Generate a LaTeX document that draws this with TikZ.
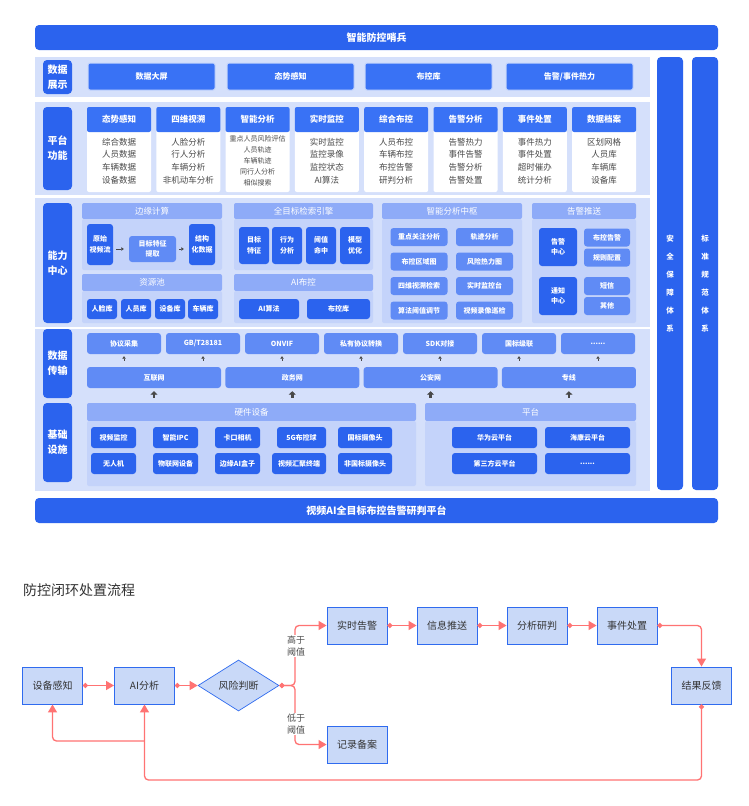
\documentclass[tikz,border=0pt]{standalone}
\usepackage{fontspec}
\setmainfont{Noto Sans CJK SC}
\usetikzlibrary{arrows.meta,shapes.geometric,positioning}
\definecolor{sentry}{HTML}{2B63EE}
\definecolor{tileblue}{HTML}{3972F5}
\definecolor{softblue}{HTML}{608BF5}
\definecolor{grouphead}{HTML}{8EABF8}
\definecolor{groupbody}{HTML}{C4D3FA}
\definecolor{bandbg}{HTML}{D5E0FB}
\definecolor{flowfill}{HTML}{C9D9F8}
\definecolor{flowline}{HTML}{2F6BEF}
\definecolor{loopred}{HTML}{FF7373}
\definecolor{inkgray}{HTML}{333333}
\definecolor{bodygray}{HTML}{4A4A4A}
\definecolor{liftgray}{HTML}{484848}
\newcommand{\moredots}{......}
\tikzset{
    wh/.style 2 args={minimum width=#1pt,minimum height=#2pt},
    banner/.style={fill=sentry,rounded corners=4pt,inner sep=0pt,text=white,
        font=\bfseries\fontsize{10}{12}\selectfont},
    layer band/.style={fill=bandbg,inner sep=0pt},
    layer label/.style={fill=sentry,rounded corners=4pt,inner sep=0pt,text=white,align=center,
        font=\bfseries\fontsize{10}{15}\selectfont},
    show tile/.style={fill=tileblue,draw=white!70!tileblue,line width=1pt,rounded corners=2pt,
        inner sep=0pt,text=white,font=\bfseries\fontsize{8}{10}\selectfont},
    card head/.style={fill=tileblue,rounded corners=2pt,inner sep=0pt,text=white,
        font=\bfseries\fontsize{8.5}{10}\selectfont},
    card body/.style={fill=white,rounded corners=2pt,inner sep=0pt,text=bodygray,align=center},
    group head/.style={fill=grouphead,rounded corners=2pt,inner sep=0pt,text=white,
        font=\fontsize{8.5}{10}\selectfont},
    group body/.style={fill=groupbody,rounded corners=2pt,inner sep=0pt},
    dark tile/.style={fill=sentry,rounded corners=3pt,inner sep=0pt,text=white,align=center,
        font=\bfseries\fontsize{7}{10.5}\selectfont},
    soft tile/.style={fill=softblue,rounded corners=3pt,inner sep=0pt,text=white,align=center,
        font=\bfseries\fontsize{7}{10.5}\selectfont},
    side bar/.style={fill=sentry,rounded corners=4pt,inner sep=0pt},
    bar text/.style={text=white,align=center,font=\bfseries\fontsize{7.5}{18}\selectfont},
    edge step/.style={draw=liftgray,line width=0.9pt,-{Triangle[length=2.5pt,width=3.5pt]},
        shorten <=3pt,shorten >=5pt},
    tiny lift/.style={draw=liftgray,line width=0.9pt,-{Triangle[length=2.5pt,width=3.5pt]},
        shorten <=6pt,shorten >=2pt},
    big lift/.style={draw=liftgray,line width=2.4pt,-{Triangle[length=3.5pt,width=7pt]},
        shorten <=5pt,shorten >=3pt},
    flow box/.style={fill=flowfill,draw=flowline,line width=0.9pt,inner sep=0pt,
        minimum width=60pt,minimum height=37pt,text=inkgray,font=\fontsize{10}{12}\selectfont},
    flow link/.style={draw=loopred,line width=1.3pt,rounded corners=4pt,
        arrows={Circle[length=5pt]-Triangle[length=8pt,width=9pt]}},
    loop link/.style={draw=loopred,line width=1.3pt,rounded corners=4pt,
        arrows={-Triangle[length=8pt,width=9pt]}},
    gate note/.style={fill=white,inner sep=1pt,text=bodygray,align=center,
        font=\fontsize{9}{12.5}\selectfont}
}

\begin{document}
\begin{tikzpicture}[x=1pt,y=-1pt]
\useasboundingbox (0,0) rectangle (749,806);
\fill[white] (0,0) rectangle (749,806);

% top and bottom banners, side bars
\node[banner,wh={683}{25}] (top_banner) at (376.5,37.5) {智能防控哨兵};
\node[banner,wh={683}{25}] (base_banner) at (376.5,510.5) {视频AI全目标布控告警研判平台};
\node[side bar,wh={26}{433},label={[bar text,yshift=-10pt]center:安\\全\\保\\障\\体\\系}] (safety_bar) at (670,273.5) {};
\node[side bar,wh={26}{433},label={[bar text,yshift=-10pt]center:标\\准\\规\\范\\体\\系}] (norm_bar) at (705,273.5) {};

% layer bands
\node[layer band,wh={615}{40}] (band_show) at (342.5,77) {};
\node[layer band,wh={615}{93}] (band_func) at (342.5,148.5) {};
\node[layer band,wh={615}{129}] (band_core) at (342.5,262.5) {};
\node[layer band,wh={615}{162}] (band_base) at (342.5,410) {};

% layer labels
\node[layer label,wh={29}{34}] (lbl_show) at (57.5,77) {数据\\展示};
\node[layer label,wh={29}{83}] (lbl_func) at (57.5,148.5) {平台\\功能};
\node[layer label,wh={29}{120}] (lbl_core) at (57.5,263) {能力\\中心};
\node[layer label,wh={29}{69}] (lbl_trans) at (57.5,363.5) {数据\\传输};
\node[layer label,wh={29}{79}] (lbl_infra) at (57.5,442.5) {基础\\设施};

% data display
\foreach \i/\x/\name in {0/151.5/数据大屏,1/290.5/态势感知,2/428.5/布控库,3/569.5/{告警/事件热力}}
    \node[show tile,wh={127}{27}] (show_\i) at (\x,76.5) {\name};

% platform function cards
\foreach \i/\head/\fs/\ls/\body in {
    0/态势感知/8.5/12.7/{综合数据\\人员数据\\车辆数据\\设备数据},
    1/四维视溯/8.5/12.7/{人脸分析\\行人分析\\车辆分析\\非机动车分析},
    2/智能分析/7/11/{重点人员风险评估\\人员轨迹\\车辆轨迹\\同行人分析\\相似搜索},
    3/实时监控/8.5/12.7/{实时监控\\监控录像\\监控状态\\AI算法},
    4/综合布控/8.5/12.7/{人员布控\\车辆布控\\布控告警\\研判分析},
    5/告警分析/8.5/12.7/{告警热力\\事件告警\\告警分析\\告警处置},
    6/事件处置/8.5/12.7/{事件热力\\事件处置\\超时催办\\统计分析},
    7/数据档案/8.5/12.7/{区划网格\\人员库\\车辆库\\设备库}}{
    \node[card body,wh={64}{62},font=\fontsize{\fs}{\ls}\selectfont] (card_\i) at (119+69.3*\i,161) {\body};
    \node[card head,wh={64}{25}] (cardhead_\i) at (119+69.3*\i,119.5) {\head};
}

% capability centre: edge computing
\node[group head,wh={140}{16}] (edge_head) at (152,211) {边缘计算};
\node[group body,wh={140}{51}] (edge_body) at (152,244.5) {};
\node[dark tile,wh={26}{41}] (raw) at (100,244.5) {原始\\视频流};
\node[soft tile,wh={47}{26}] (feat) at (152.5,249) {目标特征\\提取};
\node[dark tile,wh={26}{41}] (struct) at (202,244.5) {结构\\化数据};
\draw[edge step] (feat.west -| raw.east) -- (feat.west);
\draw[edge step] (feat.east) -- (feat.east -| struct.west);

% resource pool
\node[group head,wh={140}{17}] (pool_head) at (152,282.5) {资源池};
\node[group body,wh={140}{32}] (pool_body) at (152,307) {};
\foreach \i/\x/\name in {0/102/人脸库,1/136/人员库,2/170/设备库,3/203/车辆库}
    \node[dark tile,wh={30}{20}] (pool_\i) at (\x,309) {\name};

% search engine
\node[group head,wh={139}{16}] (seek_head) at (303.5,211) {全目标检索引擎};
\node[group body,wh={139}{51}] (seek_body) at (303.5,244.5) {};
\foreach \i/\x/\name in {0/254/目标\\特征,1/287/行为\\分析,2/321/阈值\\命中,3/355/模型\\优化}
    \node[dark tile,wh={30}{37}] (seek_\i) at (\x,245.5) {\name};

% AI control
\node[group head,wh={139}{17}] (aictl_head) at (303.5,282.5) {AI布控};
\node[group body,wh={139}{32}] (aictl_body) at (303.5,307) {};
\node[dark tile,wh={60}{20}] (aictl_algo) at (269,309) {AI算法};
\node[dark tile,wh={63}{20}] (aictl_lib) at (338.5,309) {布控库};

% analysis hub
\node[group head,wh={140}{16}] (hub_head) at (452,211) {智能分析中枢};
\node[group body,wh={140}{104}] (hub_body) at (452,271) {};
\foreach \i/\x/\y/\name in {0/419/237/重点关注分析,1/484.5/237/轨迹分析,
        2/419/261.5/布控区域图,3/484.5/261.5/风险热力图,
        4/419/286/四维视溯检索,5/484.5/286/实时监控台,
        6/419/310.5/算法阈值调节,7/484.5/310.5/视频录像巡检}
    \node[soft tile,wh={57}{18}] (hub_\i) at (\x,\y) {\name};

% alarm push
\node[group head,wh={104}{16}] (push_head) at (584,211) {告警推送};
\node[group body,wh={104}{104}] (push_body) at (584,271) {};
\node[dark tile,wh={38}{38}] (alarm_center) at (558,247) {告警\\中心};
\node[dark tile,wh={38}{38}] (notify_center) at (558,296) {通知\\中心};
\foreach \i/\y/\name in {0/237.5/布控告警,1/257.5/规则配置,2/286/短信,3/306/其他}
    \node[soft tile,wh={46}{18}] (push_\i) at (607,\y) {\name};

% data transmission
\foreach \i/\name in {0/协议采集,1/{GB/T28181},2/ONVIF,3/私有协议转换,4/SDK对接,5/国标级联,6/\moredots}
    \node[soft tile,wh={74}{21}] (proto_\i) at (124+79*\i,343.5) {\name};
\foreach \i/\name in {0/互联网,1/政务网,2/公安网,3/专线}
    \node[soft tile,wh={134}{21}] (net_\i) at (154+138.3*\i,377.5) {\name};
\foreach \i in {0,1,2,3,4,5,6}
    \draw[tiny lift] (proto_\i.south |- net_0.north) -- (proto_\i.south);

% infrastructure
\node[group head,wh={329}{18}] (hw_head) at (251.5,412) {硬件设备};
\node[group body,wh={329}{65}] (hw_body) at (251.5,453.5) {};
\foreach \i/\x/\w/\y/\name in {0/113.5/45/437.5/视频监控,1/175.5/45/437.5/智能IPC,2/237.5/45/437.5/卡口相机,
        3/301.5/49/437.5/5G布控球,4/365/54/437.5/国标摄像头,
        5/113.5/45/463.5/无人机,6/175.5/45/463.5/物联网设备,7/237.5/45/463.5/边缘AI盒子,
        8/299/54/463.5/视频汇聚终端,9/365/54/463.5/非国标摄像头}
    \node[dark tile,minimum width=\w pt,minimum height=21pt] (hw_\i) at (\x,\y) {\name};
\node[group head,wh={211}{18}] (cloud_head) at (530.5,412) {平台};
\node[group body,wh={211}{65}] (cloud_body) at (530.5,453.5) {};
\foreach \i/\x/\y/\name in {0/494.5/437.5/华为云平台,1/587.5/437.5/海康云平台,
        2/494.5/463.5/第三方云平台,3/587.5/463.5/\moredots}
    \node[dark tile,wh={85}{21}] (cloud_\i) at (\x,\y) {\name};
\foreach \i in {0,1,2,3}
    \draw[big lift] (net_\i.south |- hw_head.north) -- (net_\i.south);

% closed-loop flow
\node[anchor=west,inner sep=0pt,text=inkgray,font=\fontsize{14}{16}\selectfont] (flow_title) at (23,590) {防控闭环处置流程};
\node[flow box] (sense) at (52.5,685.5) {设备感知};
\node[flow box] (ai) at (144.5,685.5) {AI分析};
\node[diamond,fill=flowfill,draw=flowline,line width=0.7pt,inner sep=0pt,
    minimum width=81pt,minimum height=51pt,text=inkgray,font=\fontsize{10}{12}\selectfont] (risk) at (238.5,685.5) {风险判断};
\node[flow box] (alarm) at (357,625.5) {实时告警};
\node[flow box] (record) at (357,744.5) {记录备案};
\node[flow box] (push) at (447,625.5) {信息推送};
\node[flow box] (judge) at (537,625.5) {分析研判};
\node[flow box] (handle) at (627,625.5) {事件处置};
\node[flow box] (feedback) at (701.5,685.5) {结果反馈};
\coordinate (fork) at (295,685.5);
\coordinate (loop_low) at (144.5,780);
\coordinate (loop_mid) at (144.5,741);

\draw[flow link] (sense) -- (ai);
\draw[flow link] (ai) -- (risk);
\draw[flow link] (risk.east) -- (fork) |- (alarm.west);
\draw[flow link] (risk.east) -- (fork) |- (record.west);
\draw[flow link] (alarm) -- (push);
\draw[flow link] (push) -- (judge);
\draw[flow link] (judge) -- (handle);
\draw[flow link] (handle.east) -| (feedback.north);
\draw[flow link] (feedback.south) |- (loop_low) -- (ai.south);
\draw[loop link] (loop_mid) -| (sense.south);
\node[gate note] (high_note) at (296,646) {高于\\阈值};
\node[gate note] (low_note) at (296,724) {低于\\阈值};
\end{tikzpicture}
\end{document}
